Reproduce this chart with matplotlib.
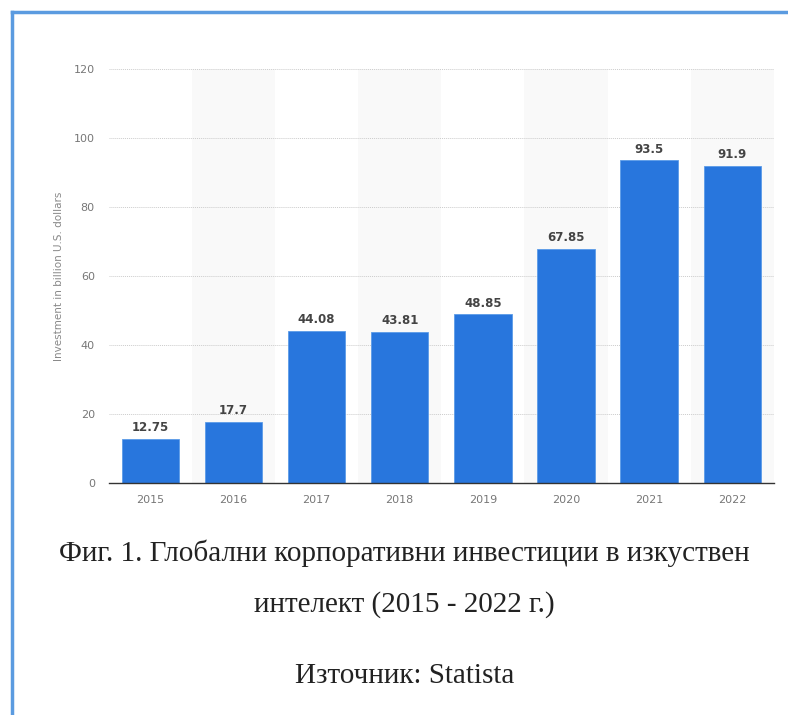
import numpy as np
import matplotlib.pyplot as plt
from matplotlib.lines import Line2D

years = ['2015', '2016', '2017', '2018', '2019', '2020', '2021', '2022']
values = [12.75, 17.7, 44.08, 43.81, 48.85, 67.85, 93.5, 91.9]
labels = ['12.75', '17.7', '44.08', '43.81', '48.85', '67.85', '93.5', '91.9']
yticks = [0, 20, 40, 60, 80, 100, 120]

fig = plt.figure(figsize=(7.88, 7.15), dpi=100)
ax = fig.add_axes([0.138, 0.3245, 0.844, 0.579])

x = np.arange(len(years))

# alternating column shading
for i in x:
    if i % 2 == 1:
        ax.axvspan(i - 0.5, i + 0.5, color='#f9f9f9', zorder=0, lw=0)

ax.bar(x, values, width=0.69, color='#2876dd', edgecolor='#5b9be8',
       linewidth=0.6, zorder=2)

for xi, v, lab in zip(x, values, labels):
    ax.text(xi, v + 1.4, lab, ha='center', va='bottom', fontsize=8.5,
            fontweight='bold', color='#444444', zorder=3)

ax.set_xlim(-0.5, len(years) - 0.5)
ax.set_ylim(0, 120)
ax.set_yticks(yticks)
ax.set_xticks(x)
ax.set_xticklabels(years)
ax.grid(axis='y', color='#cccccc', linestyle=(0, (1, 1)), linewidth=0.7, zorder=1)
ax.set_axisbelow(True)
for s in ['top', 'right', 'left']:
    ax.spines[s].set_visible(False)
ax.spines['bottom'].set_color('#333333')
ax.spines['bottom'].set_linewidth(1.0)
ax.tick_params(axis='both', length=0, labelsize=8, labelcolor='#777777')
ax.tick_params(axis='y', pad=10)
ax.tick_params(axis='x', pad=9)
ax.set_ylabel('Investment in billion U.S. dollars', fontsize=7.5, color='#888888',
              labelpad=7)

# caption
cap = dict(ha='center', va='center', family='Liberation Serif', color='#222222')
fig.text(0.513, 1 - 553 / 715, 'Фиг. 1. Глобални корпоративни инвестиции в изкуствен',
         fontsize=21, **cap)
fig.text(0.513, 1 - 605 / 715, 'интелект (2015 - 2022 г.)', fontsize=21, **cap)
fig.text(0.513, 1 - 676 / 715, 'Източник: Statista', fontsize=21, **cap)

# blue frame (left and top edges)
fig.add_artist(Line2D([12 / 788, 12 / 788], [0, 1 - 12 / 715], color='#5b9be0', lw=2.5,
                      transform=fig.transFigure))
fig.add_artist(Line2D([12 / 788, 1], [1 - 12 / 715, 1 - 12 / 715], color='#5b9be0', lw=2.5,
                      transform=fig.transFigure))

fig.savefig('out.png', dpi=100)
